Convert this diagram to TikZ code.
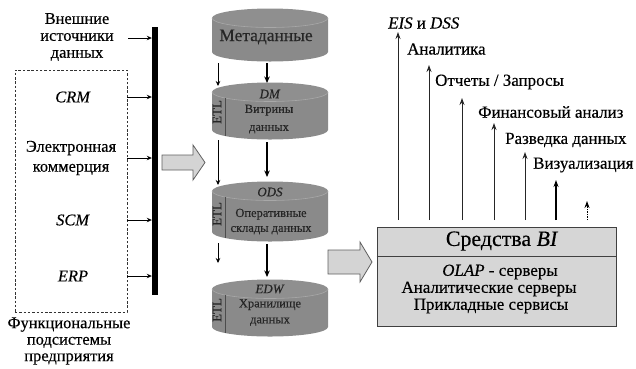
\documentclass[tikz,border=0pt]{standalone}
\usepackage{fontspec}
\setmainfont{Liberation Serif}[FakeBold=0.35]
\usetikzlibrary{arrows.meta}
\newcommand\drawcyl[2]{%
  \shade[left color=black!46, middle color=black!13, right color=black!46]
    (212,#1) -- (212,#2) arc[start angle=180,end angle=0,x radius=58,y radius=9.5] -- (328,#1) -- cycle;
  \shade[left color=black!44, middle color=black!24, right color=black!44]
    (270,#1) ellipse[x radius=58,y radius=9.5];
  \draw[black!34, line width=0.6bp] (212,#1) arc[start angle=180,end angle=0,x radius=58,y radius=9.5];
}
\begin{document}
\begin{tikzpicture}[x=1bp,y=-1bp,
  lbl/.style={inner sep=0pt, align=center, font=\fontsize{16.5}{17}\selectfont},
  cyltxt/.style={inner sep=0pt, align=center, text=black!85, font=\fontsize{12.5}{16}\selectfont},
  etltxt/.style={inner sep=0pt, rotate=90, text=black!85, font=\fontsize{13}{13}\selectfont},
  rlbl/.style={inner sep=0pt, anchor=west, font=\fontsize{17}{18}\selectfont},
  bitxt/.style={inner sep=0pt, font=\fontsize{17}{18}\selectfont},
  smalltip/.style={-{Stealth[length=5bp,width=4.5bp]}, line width=0.7bp},
  bigtip/.style={-{Stealth[length=6.5bp,width=5.5bp]}, line width=1.3bp},
  uptip/.style={-{Stealth[length=7bp,width=5bp]}, line width=0.9bp, black!85},
  blockarrow/.style={fill=black!17, draw=black!62, line width=0.8bp, line join=miter},
]
\useasboundingbox (0,0) rectangle (636,368);

% ---------- left column ----------
\node[draw=black!80, dashed, dash pattern=on 2.5bp off 1.8bp, line width=0.8bp,
      minimum width=112bp, minimum height=242bp, inner sep=0pt] (fbox) at (71,191) {};
\node[fill=black, minimum width=6bp, minimum height=268bp, inner sep=0pt] (bar) at (155,161) {};

\node[lbl] (ext) at (77,37) {Внешние\\источники\\данных};
\node[lbl] (crm) at (73,97) {\textit{CRM}};
\node[lbl, font=\fontsize{16.5}{20}\selectfont] (ecom) at (71,158) {Электронная\\коммерция};
\node[lbl] (scm) at (73,220) {\textit{SCM}};
\node[lbl] (erp) at (73,276) {\textit{ERP}};
\node[lbl, font=\fontsize{16.5}{16.5}\selectfont] (func) at (69,341) {Функциональные\\подсистемы\\предприятия};

\coordinate (extout) at (128,38);
\draw[smalltip] (extout) -- (bar.west |- extout);
\draw[smalltip] (fbox.east |- crm) -- (bar.west |- crm);
\draw[smalltip] (fbox.east |- ecom) -- (bar.west |- ecom);
\draw[smalltip] (fbox.east |- scm) -- (bar.west |- scm);
\draw[smalltip] (fbox.east |- erp) -- (bar.west |- erp);

% block arrow 1
\draw[blockarrow] (162,155) -- (193,155) -- (193,145) -- (205,162.5) -- (193,180) -- (193,170) -- (162,170) -- cycle;

% ---------- cylinders ----------
\drawcyl{18}{52}
\drawcyl{92}{130}
\drawcyl{191}{232}
\drawcyl{289}{327}

\foreach \t/\b in {92/130,191/232,289/327}{
  \draw[black!70, line width=1bp] (225,\t+6) -- (225,\b+6);
}

\node[cyltxt, font=\fontsize{17.5}{18}\selectfont] (meta) at (266,37) {Метаданные};

\node[cyltxt, font=\fontsize{13}{13}\selectfont] (dmlbl) at (270,94) {\textit{DM}};
\node[cyltxt, font=\fontsize{12.5}{18}\selectfont] (dmtxt) at (269,119) {Витрины\\данных};
\node[etltxt] (dmetl) at (217,112) {ETL};

\node[cyltxt, font=\fontsize{13}{13}\selectfont] (odslbl) at (270,192) {\textit{ODS}};
\node[cyltxt, font=\fontsize{12.5}{15}\selectfont] (odstxt) at (271,221.5) {Оперативные\\склады данных};
\node[etltxt] (odsetl) at (217,214) {ETL};

\node[cyltxt, font=\fontsize{13}{13}\selectfont] (edwlbl) at (270,289) {\textit{EDW}};
\node[cyltxt, font=\fontsize{12.5}{16}\selectfont] (edwtxt) at (270,312.5) {Хранилище\\данных};
\node[etltxt] (edwetl) at (217,310) {ETL};

% arrows between cylinders
\coordinate (l1a) at (218,63);  \coordinate (l1b) at (218,86);
\coordinate (l2a) at (218,140); \coordinate (l2b) at (218,185);
\coordinate (l3a) at (218,243); \coordinate (l3b) at (218,263);
\coordinate (r1a) at (267,63);  \coordinate (r1b) at (267,83);
\coordinate (r2a) at (267,142); \coordinate (r2b) at (267,177);
\coordinate (r3a) at (267,244); \coordinate (r3b) at (267,277);
\draw[smalltip] (l1a) -- (l1b);
\draw[smalltip] (l2a) -- (l2b);
\draw[smalltip] (l3a) -- (l3b);
\draw[bigtip] (r1a) -- (r1b);
\draw[bigtip] (r2a) -- (r2b);
\draw[bigtip] (r3a) -- (r3b);

% block arrow 2
\draw[blockarrow] (328,250) -- (360,250) -- (360,242) -- (372,262) -- (360,282) -- (360,274) -- (328,274) -- cycle;

% ---------- BI box ----------
\node[draw=black!75, fill=black!16, line width=1bp, minimum width=239bp, minimum height=99bp, inner sep=0pt] (bi) at (496.5,276.5) {};
\draw[black!75, line width=1bp] (bi.west |- 0,256) -- (bi.east |- 0,256);
\node[inner sep=0pt, font=\fontsize{22}{22}\selectfont] (bititle) at (502,241) {Средства \textit{BI}};
\node[bitxt] (olap) at (500,272) {\textit{OLAP} - серверы};
\node[bitxt] (asrv) at (489,289) {Аналитические серверы};
\node[bitxt] (psrv) at (491,306) {Прикладные сервисы};

% ---------- upward arrows ----------
\foreach \n/\x/\y in {1/398/32, 2/429/65, 3/462/98, 4/494/123, 5/525/152}{
  \coordinate (ua\n) at (\x,220);
  \coordinate (ub\n) at (\x,\y);
  \draw[uptip] (ua\n) -- (ub\n);
}
\coordinate (ua6) at (556,220); \coordinate (ub6) at (556,180);
\draw[uptip, line width=1.3bp, black] (ua6) -- (ub6);
\coordinate (ua7) at (587,220); \coordinate (ub7) at (587,201);
\draw[uptip, dash pattern=on 1.5bp off 1bp, line width=1bp, black] (ua7) -- (ub7);

\node[rlbl] (eis) at (388,23) {\textit{EIS} и \textit{DSS}};
\node[rlbl] (anal) at (407,49) {Аналитика};
\node[rlbl] (rep) at (435,82) {Отчеты / Запросы};
\node[rlbl] (fin) at (478,112) {Финансовый анализ};
\node[rlbl] (razv) at (505,140) {Разведка данных};
\node[rlbl] (viz) at (533,165) {Визуализация};
\end{tikzpicture}
\end{document}
